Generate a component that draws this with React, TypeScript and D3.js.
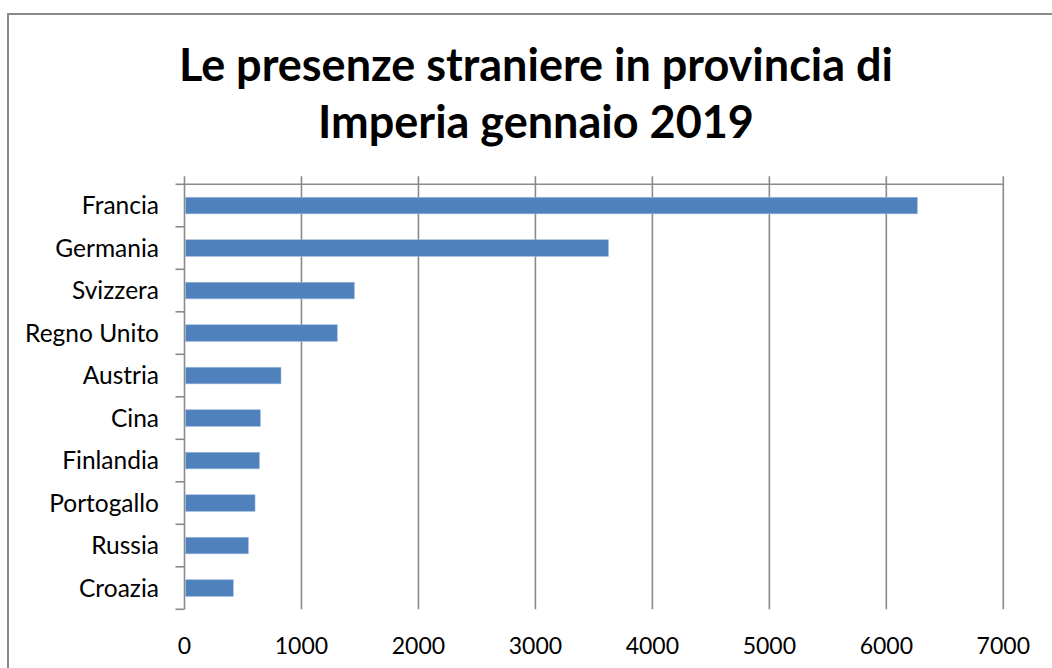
import React from "react";
import * as d3 from "d3";

// data
const countries = [
  "Francia",
  "Germania",
  "Svizzera",
  "Regno Unito",
  "Austria",
  "Cina",
  "Finlandia",
  "Portogallo",
  "Russia",
  "Croazia",
];
const presenze = [6265, 3624, 1452, 1306, 825, 648, 640, 603, 546, 417];
const xTicks = [0, 1000, 2000, 3000, 4000, 5000, 6000, 7000];
const titleLines = ["Le presenze straniere in provincia di", "Imperia gennaio 2019"];

const W = 1052;
const H = 668;
const plot = { left: 184.5, right: 1003.3, top: 184.3, bottom: 609.3 };
const axisColor = "#8a8a8a";
const font = "Lato, 'Open Sans', sans-serif";

export default function App() {
  const x = d3.scaleLinear().domain([0, 7000]).range([plot.left, plot.right]);
  const y = d3.scaleBand<string>().domain(countries).range([plot.top, plot.bottom]).padding(0);
  const step = y.step();
  const barH = step * 0.39;

  // band boundaries for the little ticks on the category axis
  const bounds = d3.range(countries.length + 1).map((i) => plot.top + i * step);

  return (
    <svg
      width={W}
      height={H}
      style={{ position: "absolute", left: 0, top: 0, background: "#fff" }}
    >
      {/* chart frame */}
      <rect x={8} y={14} width={W + 20} height={H + 20} fill="#fff" stroke={axisColor} strokeWidth={2} />

      {/* title */}
      {titleLines.map((t, i) => (
        <text
          key={t}
          x={536}
          y={81 + i * 57}
          textAnchor="middle"
          fontFamily={font}
          fontWeight={700}
          fontSize={45}
          fill="#000"
        >
          {t}
        </text>
      ))}

      {/* gridlines */}
      {xTicks.slice(1).map((t) => (
        <line
          key={"g" + t}
          x1={x(t)}
          x2={x(t)}
          y1={plot.top - 8}
          y2={plot.bottom}
          stroke={axisColor}
          strokeWidth={1.6}
        />
      ))}
      {/* value axis drawn along the top */}
      <line x1={plot.left} x2={plot.right} y1={plot.top} y2={plot.top} stroke={axisColor} strokeWidth={1.6} />
      <line x1={plot.left} x2={plot.left} y1={plot.top - 8} y2={plot.bottom} stroke={axisColor} strokeWidth={1.6} />

      {/* category ticks */}
      {bounds.map((b, i) => (
        <line key={"c" + i} x1={plot.left - 9} x2={plot.left} y1={b} y2={b} stroke={axisColor} strokeWidth={1.6} />
      ))}

      {/* bars */}
      {countries.map((c, i) => (
        <rect
          key={c}
          x={x(0) + 1}
          y={(y(c) as number) + step / 2 - barH / 2}
          width={x(presenze[i]) - x(0) - 1}
          height={barH}
          fill="#4f81bd"
          stroke="#9db8dc"
          strokeWidth={0.6}
        />
      ))}

      {/* category labels */}
      {countries.map((c) => (
        <text
          key={"l" + c}
          x={159}
          y={(y(c) as number) + step / 2}
          dy="0.35em"
          textAnchor="end"
          fontFamily={font}
          fontSize={24.5}
          fill="#000"
        >
          {c}
        </text>
      ))}

      {/* value tick labels at the bottom */}
      {xTicks.map((t) => (
        <text
          key={"t" + t}
          x={x(t)}
          y={654}
          textAnchor="middle"
          fontFamily={font}
          fontSize={23}
          fill="#000"
        >
          {t}
        </text>
      ))}
    </svg>
  );
}
